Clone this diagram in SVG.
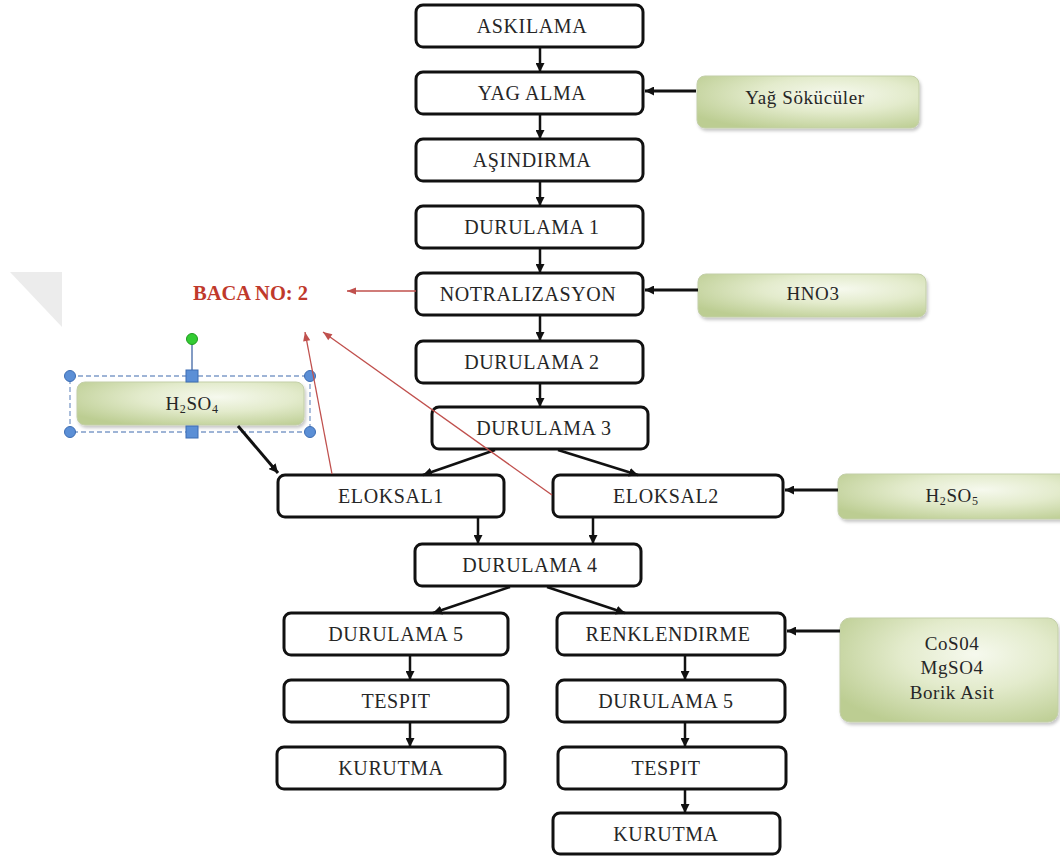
<svg xmlns="http://www.w3.org/2000/svg" width="1060" height="863" viewBox="0 0 1060 863">
  <defs>
    <style>
      .box { fill: #ffffff; stroke: #111111; stroke-width: 3; }
      .lbl { font-family: "Liberation Serif", "Times New Roman", serif; font-size: 20px; letter-spacing: 0.6px; fill: #262626; text-anchor: middle; }
      .chem { fill: url(#greenFill); stroke: #c3cfa8; stroke-width: 1; filter: url(#soft); }
      .flow { stroke: #111111; stroke-width: 2.5; fill: none; marker-end: url(#arrowBlack); }
      .feed { stroke: #111111; stroke-width: 3; fill: none; marker-end: url(#arrowBlack); }
      .fume { stroke: #c0504d; stroke-width: 1.3; fill: none; marker-end: url(#arrowRed); }
      .sel { fill: none; stroke: #7f9cc9; stroke-width: 1.3; stroke-dasharray: 5 3; }
      .handle { fill: #5b8fd6; stroke: #3d6db3; stroke-width: 1; }
    </style>
    <radialGradient id="greenFill" cx="0.62" cy="0.35" r="0.75">
      <stop offset="0" stop-color="#f6f9ee"/>
      <stop offset="0.45" stop-color="#e3ebcc"/>
      <stop offset="1" stop-color="#bccd92"/>
    </radialGradient>
    <filter id="soft" x="-10%" y="-20%" width="120%" height="150%">
      <feDropShadow dx="1.5" dy="2.5" stdDeviation="1.5" flood-color="#000000" flood-opacity="0.22"/>
    </filter>
    <marker id="arrowBlack" viewBox="0 0 10 10" refX="10" refY="5" markerWidth="9" markerHeight="9" markerUnits="userSpaceOnUse" orient="auto">
      <path d="M0,0 L10,5 L0,10 z" fill="#111111"/>
    </marker>
    <marker id="arrowRed" viewBox="0 0 10 10" refX="10" refY="5" markerWidth="10" markerHeight="9" markerUnits="userSpaceOnUse" orient="auto">
      <path d="M0,1 L10,5 L0,9 z" fill="#c0504d"/>
    </marker>
  </defs>

  <rect width="1060" height="863" fill="#ffffff"/>

  <!-- faint corner mark -->
  <polygon points="10,272 62,272 62,327" fill="#ececec"/>

  <!-- main process line -->
  <g id="askilama"><rect class="box" x="416" y="5" width="227" height="42" rx="7"/><text class="lbl" x="532" y="33">ASKILAMA</text></g>
  <g id="yag-alma"><rect class="box" x="416" y="72" width="227" height="42" rx="7"/><text class="lbl" x="532" y="100">YAG ALMA</text></g>
  <g id="asindirma"><rect class="box" x="416" y="139" width="227" height="42" rx="7"/><text class="lbl" x="532" y="167">AŞINDIRMA</text></g>
  <g id="durulama-1"><rect class="box" x="416" y="206" width="227" height="42" rx="7"/><text class="lbl" x="532" y="234">DURULAMA 1</text></g>
  <g id="notralizasyon"><rect class="box" x="416" y="273" width="227" height="42" rx="7"/><text class="lbl" x="528" y="301">NOTRALIZASYON</text></g>
  <g id="durulama-2"><rect class="box" x="416" y="341" width="227" height="42" rx="7"/><text class="lbl" x="532" y="369">DURULAMA 2</text></g>
  <g id="durulama-3"><rect class="box" x="432" y="407" width="216" height="42" rx="7"/><text class="lbl" x="544" y="435">DURULAMA 3</text></g>
  <g id="eloksal-1"><rect class="box" x="278" y="475" width="226" height="42" rx="7"/><text class="lbl" x="391" y="503">ELOKSAL1</text></g>
  <g id="eloksal-2"><rect class="box" x="553" y="475" width="230" height="42" rx="7"/><text class="lbl" x="666" y="503">ELOKSAL2</text></g>
  <g id="durulama-4"><rect class="box" x="415" y="544" width="226" height="42" rx="7"/><text class="lbl" x="530" y="572">DURULAMA 4</text></g>

  <!-- left branch -->
  <g id="durulama-5a"><rect class="box" x="284" y="613" width="224" height="42" rx="7"/><text class="lbl" x="396" y="641">DURULAMA 5</text></g>
  <g id="tespit-a"><rect class="box" x="284" y="680" width="224" height="42" rx="7"/><text class="lbl" x="396" y="708">TESPIT</text></g>
  <g id="kurutma-a"><rect class="box" x="277" y="747" width="228" height="42" rx="7"/><text class="lbl" x="391" y="775">KURUTMA</text></g>

  <!-- right branch -->
  <g id="renklendirme"><rect class="box" x="557" y="613" width="228" height="42" rx="7"/><text class="lbl" x="668" y="641">RENKLENDIRME</text></g>
  <g id="durulama-5b"><rect class="box" x="557" y="680" width="228" height="42" rx="7"/><text class="lbl" x="666" y="708">DURULAMA 5</text></g>
  <g id="tespit-b"><rect class="box" x="558" y="747" width="228" height="42" rx="7"/><text class="lbl" x="666" y="775">TESPIT</text></g>
  <g id="kurutma-b"><rect class="box" x="553" y="813" width="227" height="41" rx="7"/><text class="lbl" x="666" y="841">KURUTMA</text></g>

  <!-- chemicals -->
  <g id="yag-sokuculer"><rect class="chem" x="697" y="76" width="222" height="52" rx="8"/><text class="lbl" x="805" y="104" style="font-size:19px">Yağ Sökücüler</text></g>
  <g id="hno3"><rect class="chem" x="698" y="274" width="228" height="43" rx="8"/><text class="lbl" x="813" y="300" style="font-size:19px">HNO3</text></g>
  <g id="h2so5"><rect class="chem" x="838" y="474" width="232" height="45" rx="8"/><text class="lbl" x="952" y="502" style="font-size:19px">H<tspan font-size="12" dy="3">2</tspan><tspan dy="-3">SO</tspan><tspan font-size="12" dy="3">5</tspan></text></g>
  <g id="cos04"><rect class="chem" x="840" y="618" width="218" height="104" rx="10"/>
    <text class="lbl" x="952" y="650" style="font-size:19px">CoS04</text>
    <text class="lbl" x="952" y="674" style="font-size:19px">MgSO4</text>
    <text class="lbl" x="952" y="699" style="font-size:19px">Borik Asit</text>
  </g>

  <!-- stack label -->
  <g id="baca"><text x="193" y="300" font-family="Liberation Serif, Times New Roman, serif" font-size="20.5" font-weight="bold" fill="#c0392b">BACA NO: 2</text></g>

  <!-- sulphuric acid feed, shown selected -->
  <g id="h2so4">
    <rect class="chem" x="77" y="382" width="227" height="43" rx="8"/>
    <text class="lbl" x="192" y="410" style="font-size:19px">H<tspan font-size="12" dy="3">2</tspan><tspan dy="-3">SO</tspan><tspan font-size="12" dy="3">4</tspan></text>
    <rect class="sel" x="70" y="376" width="240" height="56"/>
    <line x1="192" y1="344" x2="192" y2="371" stroke="#5a7bb0" stroke-width="1.5"/>
    <circle cx="192" cy="339" r="5.5" fill="#33cc33" stroke="#1f9a1f" stroke-width="1"/>
    <circle class="handle" cx="70" cy="376" r="5.5"/>
    <circle class="handle" cx="310" cy="376" r="5.5"/>
    <circle class="handle" cx="70" cy="432" r="5.5"/>
    <circle class="handle" cx="310" cy="432" r="5.5"/>
    <rect class="handle" x="186" y="370" width="12" height="12"/>
    <rect class="handle" x="186" y="426" width="12" height="12"/>
  </g>

  <!-- connectors -->
  <g id="connectors">
    <line class="flow" x1="540" y1="48" x2="540" y2="72"/>
    <line class="flow" x1="540" y1="115" x2="540" y2="139"/>
    <line class="flow" x1="540" y1="182" x2="540" y2="206"/>
    <line class="flow" x1="540" y1="249" x2="540" y2="273"/>
    <line class="flow" x1="540" y1="316" x2="540" y2="341"/>
    <line class="flow" x1="540" y1="384" x2="540" y2="407"/>
    <line class="flow" x1="495" y1="450" x2="423" y2="475"/>
    <line class="flow" x1="558" y1="450" x2="638" y2="475"/>
    <line class="flow" x1="478" y1="518" x2="478" y2="544"/>
    <line class="flow" x1="593" y1="518" x2="593" y2="544"/>
    <line class="flow" x1="510" y1="587" x2="433" y2="613"/>
    <line class="flow" x1="547" y1="587" x2="625" y2="613"/>
    <line class="flow" x1="410" y1="656" x2="410" y2="680"/>
    <line class="flow" x1="410" y1="723" x2="410" y2="747"/>
    <line class="flow" x1="685" y1="656" x2="685" y2="680"/>
    <line class="flow" x1="685" y1="723" x2="685" y2="747"/>
    <line class="flow" x1="685" y1="790" x2="685" y2="813"/>
    <!-- chemical feeds -->
    <line class="feed" x1="696" y1="91" x2="645" y2="91"/>
    <line class="feed" x1="698" y1="290" x2="645" y2="290"/>
    <line class="feed" x1="838" y1="490" x2="785" y2="490"/>
    <line class="feed" x1="840" y1="631" x2="787" y2="631"/>
    <line class="feed" x1="238" y1="426" x2="278" y2="473"/>
    <!-- fume lines to the stack -->
    <line class="fume" x1="416" y1="291" x2="347" y2="291"/>
    <line class="fume" x1="332" y1="474" x2="305" y2="332"/>
    <line class="fume" x1="552" y1="495" x2="323" y2="332"/>
  </g>
</svg>
